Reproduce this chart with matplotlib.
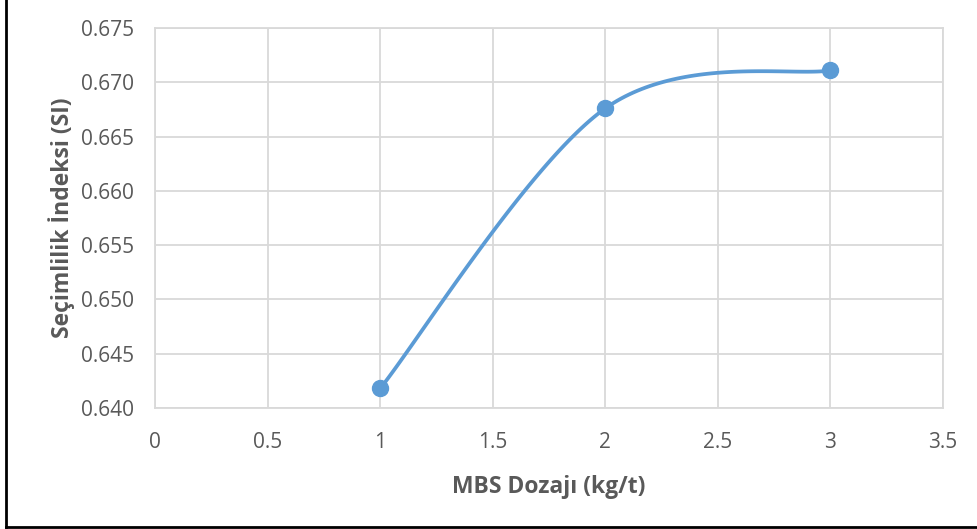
import numpy as np
import matplotlib
matplotlib.use("Agg")
import matplotlib.pyplot as plt
from matplotlib.lines import Line2D

# MBS dosage (kg/t) vs. selectivity index
dosage = [1, 2, 3]
selectivity = [0.6418, 0.6676, 0.6711]

x_ticks = [0, 0.5, 1, 1.5, 2, 2.5, 3, 3.5]
x_tick_labels = ["0", "0.5", "1", "1.5", "2", "2.5", "3", "3.5"]
y_ticks = [0.640, 0.645, 0.650, 0.655, 0.660, 0.665, 0.670, 0.675]
y_tick_labels = ["0.640", "0.645", "0.650", "0.655", "0.660", "0.665", "0.670", "0.675"]

x_label = "MBS Dozajı (kg/t)"
y_label = "Seçimlilik İndeksi (SI)"

LINE_COLOR = "#5b9bd5"
TEXT_COLOR = "#595959"
GRID_COLOR = "#d9d9d9"
FONT = ["Open Sans", "DejaVu Sans"]


def smooth_curve(xs, ys, n=60):
    """Piecewise cubic Bezier through the points (Catmull-Rom style)."""
    pts = np.column_stack([xs, ys]).astype(float)
    out = []
    for i in range(len(pts) - 1):
        p0 = pts[i - 1] if i > 0 else pts[i]
        p1 = pts[i]
        p2 = pts[i + 1]
        p3 = pts[i + 2] if i + 2 < len(pts) else pts[i + 1]
        c1 = p1 + (p2 - p0) / 6.0
        c2 = p2 - (p3 - p1) / 6.0
        t = np.linspace(0, 1, n)[:, None]
        seg = ((1 - t) ** 3) * p1 + 3 * ((1 - t) ** 2) * t * c1 \
            + 3 * (1 - t) * t ** 2 * c2 + t ** 3 * p2
        out.append(seg if i == 0 else seg[1:])
    curve = np.vstack(out)
    return curve[:, 0], curve[:, 1]


plt.rcParams["font.family"] = FONT

fig = plt.figure(figsize=(9.78, 5.29), dpi=100)
ax = fig.add_axes([0.1585, 0.2287, 0.8057, 0.7183])

cx, cy = smooth_curve(dosage, selectivity)
ax.plot(cx, cy, color=LINE_COLOR, linewidth=2.7, solid_capstyle="round", zorder=3)
ax.plot(dosage, selectivity, linestyle="none", marker="o", markersize=11.5,
        markerfacecolor=LINE_COLOR, markeredgecolor=LINE_COLOR, zorder=4)

ax.set_xlim(0, 3.5)
ax.set_ylim(0.640, 0.675)
ax.set_xticks(x_ticks)
ax.set_xticklabels(x_tick_labels)
ax.set_yticks(y_ticks)
ax.set_yticklabels(y_tick_labels)

ax.grid(True, color=GRID_COLOR, linewidth=1.3)
ax.set_axisbelow(True)
for side in ["top", "right", "left", "bottom"]:
    ax.spines[side].set_color(GRID_COLOR)
    ax.spines[side].set_linewidth(1.3)

ax.tick_params(axis="both", length=0, labelsize=15, colors=TEXT_COLOR)
ax.tick_params(axis="y", pad=15)
ax.tick_params(axis="x", pad=17)

ax.set_xlabel(x_label, fontsize=16.5, fontweight="bold", color=TEXT_COLOR, labelpad=16)
ax.set_ylabel(y_label, fontsize=16.5, fontweight="bold", color=TEXT_COLOR)
ax.yaxis.set_label_coords(-0.1015, 0.5)

# outer frame (left and bottom edges)
fig.add_artist(Line2D([0.0065, 0.0065], [0.004, 1.0], transform=fig.transFigure,
                      color="black", linewidth=2))
fig.add_artist(Line2D([0.0065, 1.0], [0.004, 0.004], transform=fig.transFigure,
                      color="black", linewidth=2))

fig.savefig("out.png", dpi=100, facecolor="white")
